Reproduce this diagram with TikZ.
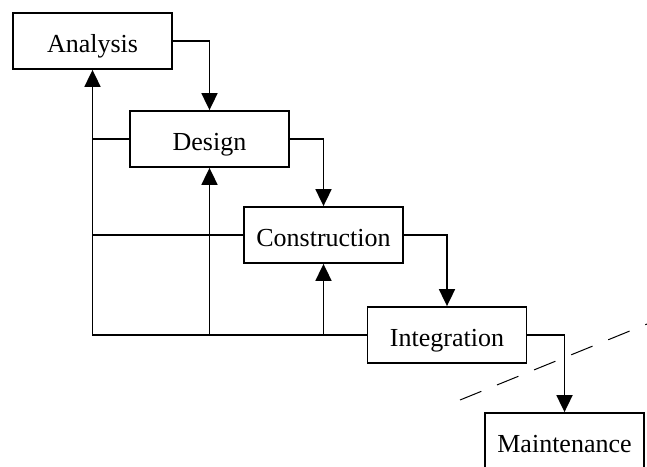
\documentclass[tikz,border=0pt]{standalone}
\usepackage{fontspec}
\setmainfont{Liberation Serif}
\usepackage{tikz}
\usetikzlibrary{arrows.meta}
\usetikzlibrary{positioning}

\begin{document}
\begin{tikzpicture}[x=1pt,y=-1pt,>={Triangle[width=16pt,length=17pt]},line width=1.8pt,
    phase node/.style={rectangle,draw,line width=1.8pt,minimum width=159pt,minimum height=56pt,inner sep=0pt,
      text height=22pt,text depth=0pt,font=\fontsize{26}{29}\selectfont},
    limit line/.style={line width=1pt,dash pattern=on 23pt off 17pt}]
   \useasboundingbox (0,0) rectangle (647,466);
   \begin{scope}
      \node[phase node] (ana) at (92.5,41) {Analysis};
      \node[phase node] (des) at (209.5,139) {Design};
      \node[phase node] (con) at (323.5,235) {Construction};
      \node[phase node] (int) at (447,335) {Integration};
      \node[phase node] (mai) at (564.5,441) {Maintenance};
      % forward flow
      \draw[->] (ana.east) -| (des.north);
      \draw[->] (des.east) -| (con.north);
      \draw[->] (con.east) -| (int.north);
      \draw[->] (int.east) -| (mai.north);
      % feedback
      \coordinate (fb) at (ana.south |- int.west);
      \draw[->] (int.west) -- (fb) -- (ana.south);
      \draw (des.west) -- (des.west -| fb);
      \draw (con.west) -- (con.west -| fb);
      \draw[->] (des.south |- int.west) -- (des.south);
      \draw[->] (con.south |- int.west) -- (con.south);
      % dashed limit
      \coordinate (lim1) at (460,400);
      \coordinate (lim2) at (647,324);
      \draw[limit line] (lim1) -- (lim2);
   \end{scope}
\end{tikzpicture}
\end{document}
